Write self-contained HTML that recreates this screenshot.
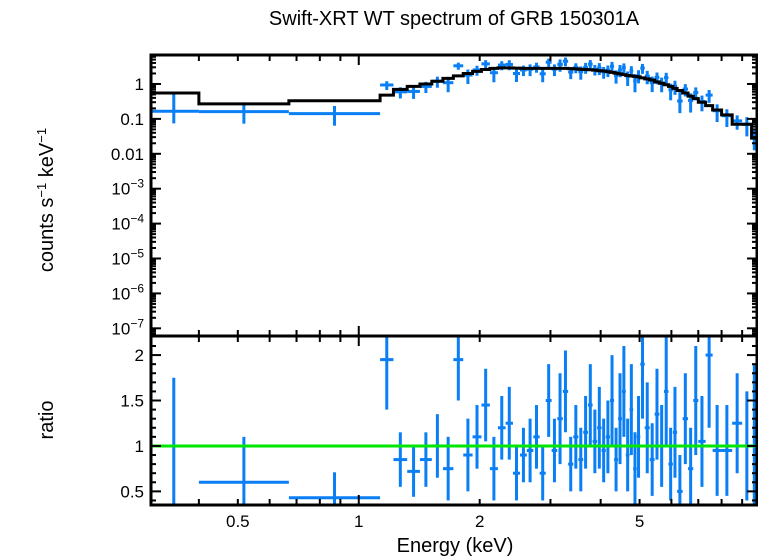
<!DOCTYPE html>
<html><head><meta charset="utf-8"><style>
html,body{margin:0;padding:0;background:#fff;}
svg{display:block;font-family:"Liberation Sans",sans-serif;}
</style></head><body>
<svg id="chart" width="758" height="556"></svg>
<script>
const binEdges=[0.30,0.40,0.67,1.13,1.22,1.32,1.42,1.52,1.62,1.72,1.82,1.92,2.02,2.12,2.22,2.32,2.42,2.52,2.62,2.72,2.82,2.92,3.02,3.12,3.22,3.32,3.42,3.52,3.62,3.72,3.82,3.92,4.02,4.12,4.22,4.32,4.42,4.52,4.62,4.72,4.82,4.92,5.02,5.15,5.30,5.45,5.60,5.75,5.90,6.05,6.20,6.40,6.60,6.80,7.00,7.30,7.60,8.00,8.50,9.00,9.50,9.80];
const modelRates=[0.55,0.27,0.33,0.48,0.7,0.85,1.0,1.2,1.45,1.7,2.0,2.3,2.6,2.8,2.9,2.9,2.85,2.8,2.8,2.8,2.8,2.8,2.8,2.8,2.8,2.75,2.7,2.65,2.6,2.55,2.5,2.4,2.35,2.25,2.15,2.05,1.95,1.85,1.75,1.7,1.65,1.6,1.5,1.4,1.3,1.15,1.05,0.95,0.85,0.75,0.65,0.55,0.45,0.38,0.3,0.24,0.18,0.13,0.07,0.07,0.028];
const ratios=[0.3,0.6,0.43,1.95,0.85,0.72,0.85,1.0,0.75,1.95,0.9,1.1,1.45,0.75,1.2,1.25,0.7,0.9,0.95,1.1,0.7,1.5,0.95,1.3,1.6,0.8,1.1,0.85,1.15,1.45,1.05,1.2,0.95,1.1,1.5,0.85,1.3,1.6,0.9,1.4,0.75,1.1,1.9,1.2,0.85,1.35,1.0,1.6,0.8,1.15,0.5,1.3,0.75,1.5,1.05,2.0,0.95,0.95,1.25,1.0,1.0];
const ratioErrs=[1.45,0.5,0.28,0.55,0.3,0.28,0.3,0.35,0.35,0.45,0.4,0.35,0.4,0.35,0.35,0.4,0.3,0.3,0.35,0.35,0.3,0.4,0.35,0.5,0.45,0.3,0.35,0.35,0.4,0.45,0.35,0.45,0.35,0.4,0.5,0.35,0.5,0.5,0.4,0.5,0.4,0.45,0.6,0.5,0.4,0.5,0.45,0.6,0.4,0.5,0.4,0.5,0.45,0.6,0.5,0.8,0.5,0.5,0.55,0.6,0.9];
const xTickLabels=[0.5,1,2,5];
const yTopTicks=[0,-1,-2,-3,-4,-5,-6,-7];
const yRatioTicks=[0.5,1,1.5,2];

const NS="http://www.w3.org/2000/svg";
const svg=document.getElementById('chart');
const L=151,R=757,T1=55,B1=336,T2=336,B2=505;
const xLogMin=Math.log10(0.304),xLogMax=Math.log10(9.8);
const X=e=>L+(Math.log10(e)-xLogMin)/(xLogMax-xLogMin)*(R-L);
const yMin=-7.22,yMax=0.83;
const Y1=v=>{const lv=Math.log10(Math.max(v,1e-9));return Math.min(B1,Math.max(T1,B1-(lv-yMin)/(yMax-yMin)*(B1-T1)));};
const rMin=0.35,rMax=2.21;
const Y2=v=>Math.min(B2,Math.max(T2,B2-(v-rMin)/(rMax-rMin)*(B2-T2)));
function mk(tag,attrs,parent){const el=document.createElementNS(NS,tag);for(const k in attrs)el.setAttribute(k,attrs[k]);(parent||svg).appendChild(el);return el;}
function line(x1,y1,x2,y2,col,w,p){return mk('line',{x1,y1,x2,y2,stroke:col,'stroke-width':w},p);}
function text(x,y,s,size,anchor,p){const t=mk('text',{x,y,'font-size':size,'text-anchor':anchor||'middle',fill:'#000'},p);t.textContent=s;return t;}

const t=text(454,25,'Swift-XRT WT spectrum of GRB 150301A',20);



const n=Math.min(binEdges.length-1,modelRates.length,ratios.length,ratioErrs.length);
const BLUE='#0a7ff5';
const gData=mk('g',{});


const gRatio=mk('g',{});


for(let i=0;i<n;i++){
  const lo=binEdges[i],hi=binEdges[i+1],c=Math.sqrt(lo*hi);
  const m=modelRates[i],r=ratios[i],e=ratioErrs[i];
  const xl=Math.max(L,X(lo)),xh=X(hi),xc=X(c);
  const g=mk('g',{},gData);
  
  
  const rate=m*r;
  line(xl,Y1(rate),xh,Y1(rate),BLUE,3,g);
  line(xc,Y1(rate*(1+Math.min(e/r,2.5))),xc,Y1(rate*Math.max(1-e/r,0.45)),BLUE,3,g);
  const g2=mk('g',{},gRatio);
  
  
  if(r>=rMin) line(xl,Y2(r),xh,Y2(r),BLUE,3,g2);
  line(xc,Y2(r+e),xc,Y2(r-e),BLUE,3,g2);
}
let d='';
for(let i=0;i<n;i++){
  const xl=Math.max(L,X(binEdges[i])),xh=X(binEdges[i+1]),y=Y1(modelRates[i]);
  d+=(i===0?'M':'L')+xl+','+y+'L'+xh+','+y;
}
const mp=mk('path',{d,fill:'none',stroke:'#000','stroke-width':3});


const gl=line(L,Y2(1),R,Y2(1),'#00e600',3);



const f1=mk('rect',{x:L,y:T1,width:R-L,height:B1-T1,fill:'none',stroke:'#000','stroke-width':3});


const f2=mk('rect',{x:L,y:T2,width:R-L,height:B2-T2,fill:'none',stroke:'#000','stroke-width':3});



const gx=mk('g',{});


const minorE=[0.4,0.5,0.6,0.7,0.8,0.9,1,2,3,4,5,6,7,8,9];
minorE.forEach(e=>{const x=X(e),len=(e===1)?10:6;
  [[T1,1],[B1,-1],[T2,1],[B2,-1]].forEach(([y,s])=>line(x,y,x,y+s*len,'#000',2,gx));});
xTickLabels.forEach(e=>text(X(e),527,String(e),17,'middle',gx));
const xl=text(455,552,'Energy (keV)',20);



const gy=mk('g',{});


for(let dec=-8;dec<=0;dec++){for(let k=1;k<10;k++){const v=k*Math.pow(10,dec);const lv=Math.log10(v);
  if(lv<yMin||lv>yMax)continue;const y=Y1(v),len=k===1?10:5;
  line(L,y,L+len,y,'#000',2,gy);line(R,y,R-len,y,'#000',2,gy);}}
yTopTicks.forEach(p=>{const y=Y1(Math.pow(10,p))+6;
  if(p===0)text(144,y,'1',17,'end',gy);
  else if(p===-1)text(144,y,'0.1',17,'end',gy);
  else if(p===-2)text(144,y,'0.01',17,'end',gy);
  else{const tt=text(144,y,'10',17,'end',gy);const ts=document.createElementNS(NS,'tspan');ts.setAttribute('dy','-7');ts.setAttribute('font-size','12');ts.textContent='−'+(-p);tt.appendChild(ts);}
});
const gr=mk('g',{});


for(let v=0.4;v<=2.2;v+=0.1){const y=Y2(v),maj=Math.abs(v*2-Math.round(v*2))<1e-6,len=maj?10:5;
  line(L,y,L+len,y,'#000',2,gr);line(R,y,R-len,y,'#000',2,gr);}
yRatioTicks.forEach(v=>text(144,Y2(v)+6,String(v),17,'end',gr));

const yl=mk('text',{x:0,y:0,'font-size':20,'text-anchor':'middle',transform:'translate(53,200) rotate(-90)'});
yl.innerHTML='counts s<tspan dy="-7" font-size="13">−1</tspan><tspan dy="7"> keV</tspan><tspan dy="-7" font-size="13">−1</tspan>';


const rl=mk('text',{x:0,y:0,'font-size':20,'text-anchor':'middle',transform:'translate(53,420) rotate(-90)'});
rl.textContent='ratio';


</script>
</body></html>
